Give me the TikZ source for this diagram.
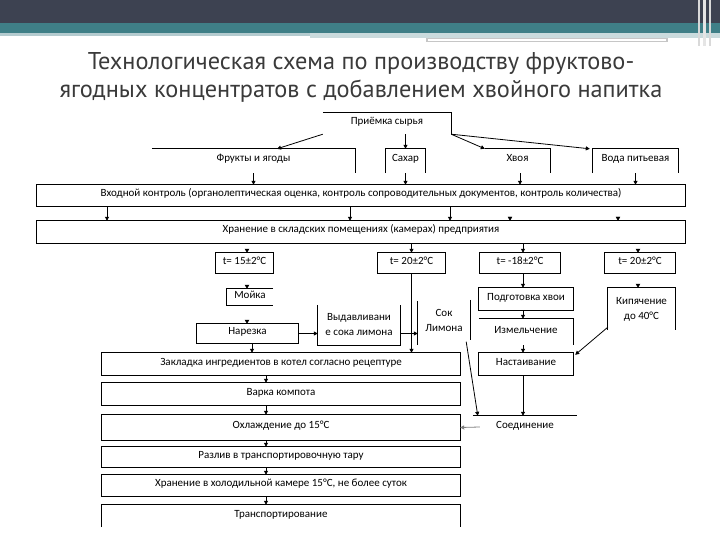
\documentclass[tikz,border=0pt]{standalone}
\usepackage{fontspec}
\setmainfont{Carlito}
\newfontfamily\titlefont{PT Sans}
\usetikzlibrary{arrows.meta,calc}
\definecolor{hdrdark}{HTML}{3D4251}
\definecolor{hdrteal}{HTML}{3F7F87}
\definecolor{hdrlight}{HTML}{B4CBCF}
\definecolor{titlegray}{HTML}{3A3A3A}
\begin{document}
\begin{tikzpicture}[x=1pt,y=-1pt,
 mbox/.style={draw=none,inner sep=0pt,font=\fontsize{11}{15}\selectfont,align=center},
 box/.style={mbox,text height=6pt,text depth=4pt},
 ln/.style={line width=0.9pt,black},
 arr/.style={line width=0.8pt,black,-{Triangle[length=4pt,width=4pt]}},
 tip/.style={black,-{Triangle[length=4pt,width=4.5pt]}},
]
\useasboundingbox (0,0) rectangle (720,540);
\fill[white] (0,0) rectangle (720,540);
% header
\fill[hdrdark] (0,0) rectangle (720,23);
\fill[hdrteal] (0,23) rectangle (720,33);
\fill[hdrlight] (0,33) rectangle (310,36);
\fill[hdrlight!70] (310,33) rectangle (720,38);
\fill[gray!45] (426,38) rectangle (668,42);
\fill[white] (428,39) rectangle (666,41);
\fill[gray!30] (698,0) rectangle (700,46);
\fill[gray!20] (703,0) rectangle (706,46);
\fill[gray!30] (709,0) rectangle (711,46);
% title
\node[font=\titlefont\fontsize{24.3}{28}\selectfont, text=titlegray, align=center] (title) at (361,77.5)
 {Технологическая схема по производству фруктово-\\ягодных концентратов с добавлением хвойного напитка};
% nodes
\node[box,minimum width=128pt,minimum height=21pt] (pri) at (387,123.5) {Приёмка сырья};
\node[box,minimum width=203pt,minimum height=24pt] (fru) at (253.5,161) {Фрукты и ягоды};
\node[box,minimum width=39pt,minimum height=24pt] (sah) at (405.5,161) {Сахар};
\node[box,minimum width=65pt,minimum height=24pt] (hvo) at (517.5,161) {Хвоя};
\node[box,minimum width=85pt,minimum height=24pt] (vod) at (635.5,161) {Вода питьевая};
\node[box,minimum width=648pt,minimum height=21pt] (vk) at (361,195.5) {Входной контроль (органолептическая оценка, контроль сопроводительных документов, контроль количества)};
\node[box,minimum width=648pt,minimum height=22pt] (hr) at (361,232) {Хранение в складских помещениях (камерах) предприятия};
\node[box,minimum width=57pt,minimum height=20pt] (t1) at (244.5,263) {t= 15±2°С};
\node[box,minimum width=67pt,minimum height=20pt] (t2) at (411.5,263) {t= 20±2°С};
\node[box,minimum width=80pt,minimum height=20pt] (t3) at (520,263) {t= -18±2°С};
\node[box,minimum width=70pt,minimum height=20pt] (t4) at (640,263) {t= 20±2°С};
\node[box,minimum width=46pt,minimum height=16pt] (moi) at (250,297) {Мойка};
\node[box,minimum width=101pt,minimum height=19pt] (nar) at (247.5,333.5) {Нарезка};
\node[mbox,minimum width=82pt,minimum height=40pt] (vyd) at (359,325) {Выдавливани\\е сока лимона};
\node[mbox,minimum width=52pt,minimum height=45pt] (sok) at (444,320) {Сок\\Лимона};
\node[box,minimum width=358pt,minimum height=22pt] (zak) at (281,364) {Закладка ингредиентов в котел согласно рецептуре};
\node[box,minimum width=358pt,minimum height=22pt] (var) at (281,394) {Варка компота};
\node[box,minimum width=358pt,minimum height=25pt] (ohl) at (281,427.5) {Охлаждение до 15°С};
\node[box,minimum width=358pt,minimum height=20pt] (raz) at (281,457) {Разлив в транспортировочную тару};
\node[box,minimum width=358pt,minimum height=21pt] (hrh) at (281,485.5) {Хранение в холодильной камере 15°С, не более суток};
\node[box,minimum width=358pt,minimum height=22pt] (tra) at (281,516) {Транспортирование};
\node[box,minimum width=94pt,minimum height=22pt] (pod) at (526,299) {Подготовка хвои};
\node[box,minimum width=94pt,minimum height=26pt] (izm) at (526,332) {Измельчение};
\node[box,minimum width=94pt,minimum height=22pt] (nas) at (526,364) {Настаивание};
\node[box,minimum width=104pt,minimum height=22pt] (soe) at (525,427) {Соединение};
\node[mbox,minimum width=67pt,minimum height=42pt] (kip) at (641.5,309) {Кипячение\\до 40°С};
% visible borders
\draw[ln] (pri.north west) -- (pri.north east) -- (pri.south east);
\draw[ln] (fru.north west) -- (fru.north east) -- (fru.south east);
\draw[ln] (sah.south west) -- (sah.north west) -- (sah.north east) -- (sah.south east);
\draw[ln] (hvo.north west) -- (hvo.north east) -- (hvo.south east);
\draw[ln] (vod.south west) -- (vod.north west) -- (vod.north east) -- (vod.south east);
\foreach \n in {vk,hr,t1,t2,t3,t4,nar,zak,var,ohl,raz,hrh,pod,nas}
  \draw[ln] (\n.north west) rectangle (\n.south east);
\draw[ln] (tra.south west) -- (tra.north west) -- (tra.north east) -- (tra.south east);
\draw[ln] (moi.north east) -- (moi.north west) -- (moi.south west) -- (moi.south east);
\draw[ln] (vyd.north west) -- (vyd.south west) -- (vyd.south east) -- (vyd.north east);
\draw[ln] ($(sok.north west)+(0,4)$) -- ($(sok.south west)+(0,2.5)$);
\draw[ln] ($(sok.north east)+(0,2.5)$) -- ($(sok.south east)+(0,-2.5)$);
\draw[ln] (izm.north west) -- (izm.north east) -- (izm.south east);
\draw[ln] (soe.north west) -- (soe.north east);
\draw[ln] (kip.south west) -- (kip.north west) -- (kip.north east) -- (kip.south east);
% connectors
\draw[arr] (pri.south west) -- ($(fru.north)+(23.5,0)$);
\draw[arr] (sah.north |- pri.south) -- (sah.north);
\draw[arr] (pri.south east) -- (hvo.north west);
\draw[arr] (pri.south east) -- ($(vod.north west)+(-3,0)$);
\draw[arr] (fru.south) -- (fru.south |- vk.north);
\draw[arr] (sah.south) -- (sah.south |- vk.north);
\draw[arr] ($(hvo.south)+(2.5,0)$) -- ($(hvo.south |- vk.north)+(2.5,0)$);
\draw[arr] (vod.south) -- (vod.south |- vk.north);
\draw[arr] ($(vk.south)+(-254,0)$) -- ($(hr.north)+(-254,0)$);
\draw[arr] ($(vk.south)+(-11,0)$) -- ($(hr.north)+(-11,0)$);
\draw[arr] ($(vk.south)+(89,0)$) -- ($(hr.north)+(89,0)$);
\draw[tip] ($(hr.north)+(149,-4)$) -- ($(hr.north)+(149,0)$);
\draw[tip] ($(hr.north)+(257,-4)$) -- ($(hr.north)+(257,0)$);
\draw[tip] ($(t1.north)+(2.5,-4)$) -- ($(t1.north)+(2.5,0)$);
\draw[arr] (hr.south -| t2.north) -- (t2.north);
\draw[arr] ($(hr.south -| t3.north)+(3,0)$) -- ($(t3.north)+(3,0)$);
\draw[tip] ($(t4.north)+(-2,-4)$) -- ($(t4.north)+(-2,0)$);
\draw[tip] ($(moi.north)+(-3,-4)$) -- ($(moi.north)+(-3,0)$);
\draw[tip] ($(nar.north)+(-0.5,-4)$) -- ($(nar.north)+(-0.5,0)$);
\draw[arr] ($(nar.south)+(4.5,0)$) -- ($(nar.south |- zak.north)+(4.5,0)$);
\draw[arr] (nar.east) -- (nar.east -| vyd.west);
\draw[arr] (nar.east -| vyd.east) -- (nar.east -| sok.west);
\draw[arr] (t2.south) -- (t2.south |- zak.north);
\draw[arr] ($(sok.south east)+(-4,-1)$) -- ($(soe.north west)+(5,0)$);
\draw[arr] ($(t3.south)+(3,0)$) -- ($(t3.south |- pod.north)+(3,0)$);
\draw[arr] ($(pod.south)+(-3,0)$) -- ($(izm.north)+(-3,0)$);
\draw[arr] ($(izm.south)+(-3,0)$) -- ($(nas.north)+(-3,0)$);
\draw[arr] ($(nas.south)+(-3,0)$) -- ($(soe.north)+(-2,0)$);
\draw[tip] ($(kip.north)+(-3.5,-4)$) -- ($(kip.north)+(-3.5,0)$);
\draw[arr] ($(kip.south west)+(0,-3)$) -- ($(nas.north east)+(2,2)$);
\draw[arr] ($(zak.south)+(-15,0)$) -- ($(var.north)+(-15,0)$);
\draw[arr] ($(var.south)+(-15,0)$) -- ($(ohl.north)+(-15,0)$);
\draw[arr] ($(ohl.south)+(-15,0)$) -- ($(raz.north)+(-15,0)$);
\draw[arr] ($(raz.south)+(-15,0)$) -- ($(hrh.north)+(-15,0)$);
\draw[arr] ($(hrh.south)+(-15,0)$) -- ($(tra.north)+(-15,0)$);
\draw[arr,gray] ($(soe.west)+(7,0)$) -- (ohl.east);
\end{tikzpicture}
\end{document}
